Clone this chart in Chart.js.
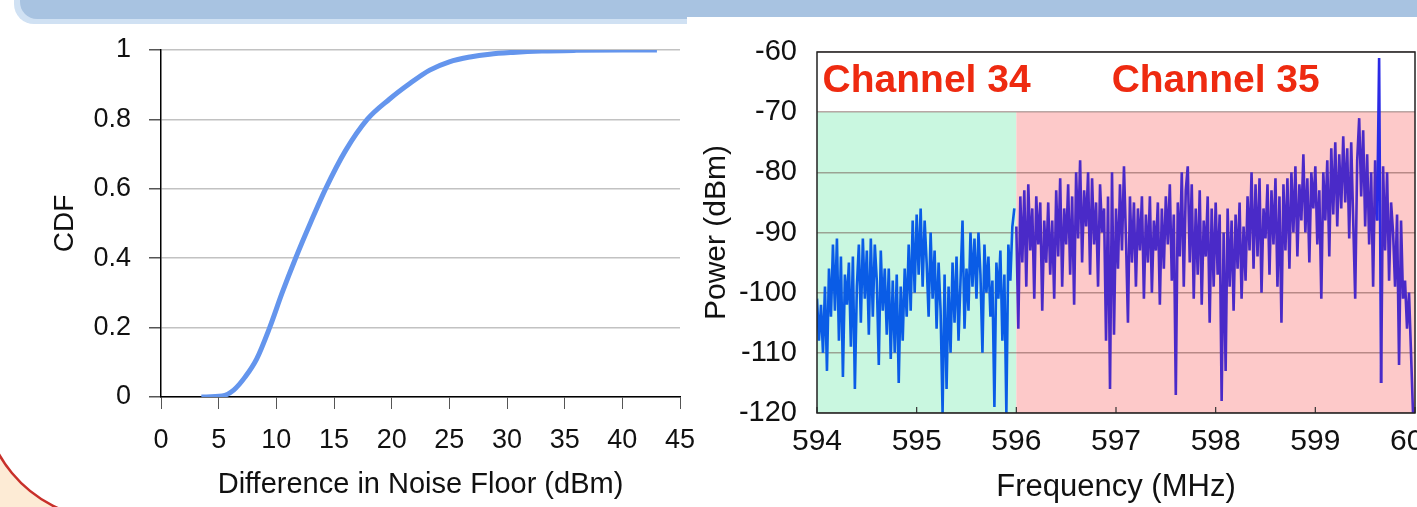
<!DOCTYPE html>
<html>
<head>
<meta charset="utf-8">
<script src="https://cdn.jsdelivr.net/npm/chart.js@4.4.1/dist/chart.umd.min.js"></script>
<style>
  html, body { margin: 0; padding: 0; background: #fff; overflow: hidden; }
  #wrap { position: relative; width: 1417px; height: 507px; overflow: hidden; }
  canvas { position: absolute; top: 0; }
  #bg { left: 0; }
  #cdfChart { left: 0; }
  #specChart { left: 690px; }
</style>
</head>
<body>
<div id="wrap">
  <canvas id="bg" width="1417" height="507"></canvas>
  <canvas id="cdfChart" width="740" height="507"></canvas>
  <canvas id="specChart" width="780" height="507"></canvas>
</div>
<script>
// left chart: CDF of noise floor difference
const cdfX = [3.5, 5.3, 6.3, 7.3, 8.3, 9.42, 10.5, 11.67, 13.0, 14.27, 16.0, 17.88, 19.8, 21.6, 23.3, 25.0, 26.8, 28.5, 30.5, 33, 36, 40, 43];
const cdfY = [0, 0.003, 0.02, 0.058, 0.11, 0.2, 0.3, 0.4, 0.505, 0.6, 0.71, 0.8, 0.858, 0.904, 0.942, 0.966, 0.98, 0.988, 0.993, 0.997, 0.999, 1.0, 1.0];

// right chart: spectrum, one sample every 0.02 MHz
const freqStep = 0.02;
const ch34Start = 594;
const ch35Start = 596;
const power34 = [
  -101, -108, -102, -110, -99,
  -113, -96, -104, -92, -103,
  -91, -108, -94, -114, -97,
  -102, -95, -109, -94, -116,
  -99, -92, -105, -91, -101,
  -93, -107, -91, -104, -92,
  -98, -112, -93, -103, -96,
  -107, -96, -111, -98, -110,
  -97, -115, -99, -108, -96,
  -104, -92, -103, -88, -100,
  -87, -97, -86, -99, -88,
  -95, -104, -90, -101, -93,
  -106, -95, -103, -120, -97,
  -116, -99, -110, -95, -105,
  -94, -108, -98, -88, -106,
  -96, -103, -90, -99, -91,
  -101, -90, -97, -110, -92,
  -100, -94, -104, -98, -119,
  -95, -101, -93, -108, -97,
  -120, -92, -98, -89, -86
];
const power35 = [
  -89, -106, -84, -95, -83,
  -99, -82, -93, -86, -101,
  -84, -92, -85, -103, -88,
  -95, -85, -97, -88, -101,
  -83, -94, -81, -99, -86,
  -92, -82, -97, -84, -102,
  -80, -91, -78, -95, -83,
  -89, -80, -97, -81, -92,
  -85, -99, -82, -90, -86,
  -108, -84, -116, -80, -107,
  -86, -96, -82, -93, -79,
  -91, -105, -84, -95, -85,
  -99, -86, -93, -84, -101,
  -87, -95, -84, -100, -88,
  -93, -85, -102, -86, -96,
  -84, -92, -82, -98, -87,
  -117, -85, -94, -80, -99,
  -83, -79, -95, -82, -101,
  -86, -97, -83, -102, -88,
  -94, -84, -105, -86, -99,
  -85, -97, -87, -118, -90,
  -113, -86, -99, -88, -103,
  -87, -96, -85, -101, -89,
  -98, -84, -93, -80, -96,
  -82, -94, -81, -100, -86,
  -91, -82, -97, -83, -92,
  -81, -99, -84, -105, -82,
  -93, -81, -96, -80, -90,
  -79, -94, -82, -88, -77,
  -90, -81, -95, -80, -86,
  -79, -92, -83, -101, -80,
  -88, -78, -94, -76, -87,
  -75, -89, -77, -86, -74,
  -85, -76, -91, -75, -88,
  -101, -78, -71, -84, -73,
  -89, -77, -92, -80, -99,
  -78, -88, -61, -115, -79,
  -93, -80, -98, -85, -90,
  -99, -87, -112, -88, -101,
  -98, -106, -100, -110, -120,
  -120
];
const channelNames = ['Channel 34', 'Channel 35'];
const channelFrom = [594, 596];
const channelTo = [596, 600];
const bandTop = -70;

// slide decoration behind the charts
const bg = document.getElementById('bg').getContext('2d');
bg.fillStyle = '#d0e1f3';
bg.beginPath(); bg.roundRect(14, -40, 673, 64, [0, 0, 0, 20]); bg.fill();
bg.fillStyle = '#a8c3e1';
bg.beginPath(); bg.roundRect(20, -40, 667, 59, [0, 0, 0, 17]); bg.fill();
bg.fillRect(687, 0, 730, 17);
bg.fillStyle = '#fdebd5';
bg.fillRect(0, 430, 70, 77);
bg.fillStyle = '#fff';
bg.beginPath(); bg.arc(111, 391, 128.6, 0, Math.PI * 2); bg.fill();
bg.strokeStyle = '#c8302a';
bg.lineWidth = 2.5;
bg.beginPath(); bg.arc(111, 391, 128.6, 0.4 * Math.PI, Math.PI); bg.stroke();

const font = 'Liberation Sans, Arial, Helvetica, sans-serif';

new Chart(document.getElementById('cdfChart').getContext('2d'), {
  type: 'line',
  data: {
    datasets: [{
      data: cdfX.map((v, i) => ({x: v, y: cdfY[i]})),
      borderColor: '#6495ed',
      borderWidth: 5,
      pointRadius: 0,
      cubicInterpolationMode: 'monotone',
      fill: false
    }]
  },
  options: {
    responsive: false,
    animation: false,
    layout: {padding: {left: 0, top: 50, right: 60, bottom: 0}},
    plugins: {legend: {display: false}, tooltip: {enabled: false}},
    scales: {
      x: {
        type: 'linear', min: 0, max: 45,
        ticks: {stepSize: 5, padding: 15, color: '#111', font: {family: font, size: 27}},
        grid: {drawOnChartArea: false, tickLength: 12, tickColor: '#555'},
        border: {color: '#000', width: 1.5},
        title: {display: true, text: 'Difference in Noise Floor (dBm)', color: '#111',
                font: {family: font, size: 29}, padding: {top: 0, bottom: 5}},
        afterFit: s => { s.height = 110; }
      },
      y: {
        min: 0, max: 1,
        ticks: {stepSize: 0.2, padding: 18, color: '#111', font: {family: font, size: 27},
                callback: v => String(Math.round(v * 10) / 10)},
        grid: {color: '#c2c2c2', lineWidth: 1.5, tickLength: 12, tickColor: '#555'},
        border: {color: '#000', width: 1.5},
        title: {display: true, text: 'CDF', color: '#111',
                font: {family: font, size: 28}, padding: {top: 48, bottom: 0}},
        afterFit: s => { s.width = 161; }
      }
    }
  }
});

const specPlugin = {
  id: 'specBands',
  beforeDraw(chart) {
    const {ctx, scales: {x, y}} = chart;
    const colors = ['#c9f7e0', '#fdc9c9'];
    ctx.save();
    for (let i = 0; i < channelFrom.length; i++) {
      const x0 = x.getPixelForValue(channelFrom[i]);
      const x1 = x.getPixelForValue(channelTo[i]);
      const y0 = y.getPixelForValue(bandTop);
      const y1 = y.getPixelForValue(y.min);
      ctx.fillStyle = colors[i];
      ctx.fillRect(x0, y0, x1 - x0, y1 - y0);
    }
    ctx.restore();
  },
  afterDraw(chart) {
    const {ctx, chartArea: a, scales: {x, y}} = chart;
    ctx.save();
    // inner ticks along the bottom
    ctx.strokeStyle = '#333';
    ctx.lineWidth = 1.2;
    x.ticks.forEach(t => {
      const px = x.getPixelForValue(t.value);
      ctx.beginPath(); ctx.moveTo(px, a.bottom); ctx.lineTo(px, a.bottom - 6); ctx.stroke();
    });
    // frame
    ctx.strokeStyle = '#222';
    ctx.lineWidth = 1.5;
    ctx.strokeRect(a.left, a.top, a.right - a.left, a.bottom - a.top);
    // channel names
    const labelX = [595.1, 598.0];
    ctx.fillStyle = '#ee2a10';
    ctx.font = 'bold 39px ' + font;
    ctx.textAlign = 'center';
    ctx.textBaseline = 'middle';
    channelNames.forEach((n, i) => {
      ctx.fillText(n, x.getPixelForValue(labelX[i]), y.getPixelForValue(-64.8));
    });
    ctx.restore();
  }
};

new Chart(document.getElementById('specChart').getContext('2d'), {
  type: 'line',
  data: {
    datasets: [{
      data: power34.map((p, i) => ({x: ch34Start + i * freqStep, y: p})),
      borderColor: '#0a5ce6',
      borderWidth: 2.6,
      pointRadius: 0,
      tension: 0
    }, {
      data: power35.map((p, i) => ({x: ch35Start + i * freqStep, y: p})),
      borderColor: '#4a2ac8',
      borderWidth: 2.6,
      pointRadius: 0,
      tension: 0,
      segment: {
        borderColor: c => (c.p0.parsed.y > bandTop || c.p1.parsed.y > bandTop) ? '#2a2ae6' : undefined
      }
    }]
  },
  options: {
    responsive: false,
    animation: false,
    layout: {padding: {left: 0, top: 52, right: 55, bottom: 0}},
    plugins: {legend: {display: false}, tooltip: {enabled: false}},
    scales: {
      x: {
        type: 'linear', min: 594, max: 600,
        ticks: {stepSize: 1, padding: 11, color: '#111', font: {family: font, size: 30}},
        grid: {display: false, drawTicks: false},
        border: {display: false},
        title: {display: true, text: 'Frequency (MHz)', color: '#111',
                font: {family: font, size: 31}, padding: {top: 0, bottom: 1}},
        afterFit: s => { s.height = 94; }
      },
      y: {
        min: -120, max: -60,
        ticks: {stepSize: 10, padding: 20, color: '#111', font: {family: font, size: 29}},
        grid: {color: 'rgba(100,60,55,0.45)', lineWidth: 1.5, drawTicks: false},
        border: {display: false},
        title: {display: true, text: 'Power (dBm)', color: '#111',
                font: {family: font, size: 30}, padding: {top: 9, bottom: 0}},
        afterFit: s => { s.width = 127; }
      }
    }
  },
  plugins: [specPlugin]
});
</script>
</body>
</html>
